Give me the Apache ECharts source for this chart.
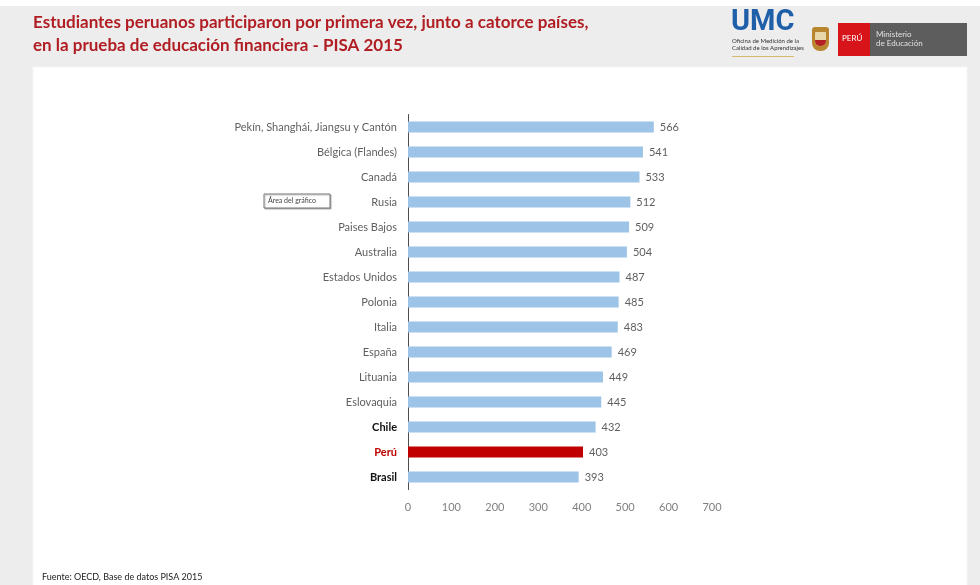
<!DOCTYPE html>
<html>
<head>
<meta charset="utf-8">
<script src="https://cdn.jsdelivr.net/npm/echarts@6/dist/echarts.min.js"></script>
<style>
  html, body { margin: 0; padding: 0; background: #ffffff; }
  #chart { width: 980px; height: 585px; }
</style>
</head>
<body>
<div id="chart"></div>
<script>
// Puntajes PISA 2015 - educación financiera
const paises = [
  'Pekín, Shanghái, Jiangsu y Cantón', 'Bélgica (Flandes)', 'Canadá', 'Rusia',
  'Paises Bajos', 'Australia', 'Estados Unidos', 'Polonia', 'Italia', 'España',
  'Lituania', 'Eslovaquia', 'Chile', 'Perú', 'Brasil'
];
const puntajes = [566, 541, 533, 512, 509, 504, 487, 485, 483, 469, 449, 445, 432, 403, 393];
const destacadosSA = ['Chile', 'Brasil'];   // en negrita
const paisPropio = 'Perú';                  // en rojo
const ticksX = [0, 100, 200, 300, 400, 500, 600, 700];

const titulo1 = 'Estudiantes peruanos participaron por primera vez, junto a catorce países,';
const titulo2 = 'en la prueba de educación financiera - PISA 2015';
const fuente = 'Fuente: OECD, Base de datos PISA 2015';

const AZUL = '#9dc3e6';
const ROJO = '#c00000';
const GRIS_TXT = '#5f5f5f';
const FONT = 'Lato, "Open Sans", sans-serif';

const chart = echarts.init(document.getElementById('chart'), null, { renderer: 'canvas' });

const datosBarras = puntajes.map((v, i) => ({
  value: v,
  itemStyle: { color: paises[i] === paisPropio ? ROJO : AZUL }
}));

chart.setOption({
  animation: false,
  backgroundColor: '#ffffff',
  textStyle: { fontFamily: FONT },
  graphic: [
    // fondo gris de la cabecera y márgenes
    { type: 'rect', z: -10, silent: true, shape: { x: 0, y: 6, width: 980, height: 579 }, style: { fill: '#ededed' } },
    { type: 'rect', z: -9, silent: true, shape: { x: 33, y: 67, width: 934, height: 530 }, style: { fill: '#ffffff', stroke: '#f6f6f6', lineWidth: 1 } },
    // título
    { type: 'text', left: 33, top: 14, silent: true,
      style: { text: titulo1, fill: '#b01e23', font: 'bold 17px ' + FONT } },
    { type: 'text', left: 33, top: 37, silent: true,
      style: { text: titulo2, fill: '#b01e23', font: 'bold 17px ' + FONT } },
    // logotipo UMC
    { type: 'text', left: 731, top: 8, silent: true,
      style: { text: 'UMC', fill: '#1f5ea8', font: 'bold 29px Roboto, sans-serif' } },
    { type: 'text', left: 732, top: 38, silent: true,
      style: { text: 'Oficina de Medición de la\nCalidad de los Aprendizajes', fill: '#333333', font: '6px ' + FONT, lineHeight: 7 } },
    { type: 'rect', silent: true, shape: { x: 732, y: 56, width: 62, height: 1 }, style: { fill: '#d8b86a' } },
    // escudo
    { type: 'rect', silent: true, shape: { x: 812, y: 27, width: 17, height: 24, r: [3, 3, 8, 8] }, style: { fill: '#b8862e' } },
    { type: 'rect', silent: true, shape: { x: 815, y: 32, width: 11, height: 14, r: [1, 1, 5, 5] }, style: { fill: '#e8d7a8' } },
    { type: 'rect', silent: true, shape: { x: 815, y: 40, width: 11, height: 6, r: [0, 0, 5, 5] }, style: { fill: '#b52025' } },
    // PERÚ / Ministerio de Educación
    { type: 'rect', silent: true, shape: { x: 838, y: 23, width: 32, height: 33 }, style: { fill: '#d7141a' } },
    { type: 'text', left: 842, top: 34, silent: true,
      style: { text: 'PERÚ', fill: '#ffffff', font: '8px ' + FONT } },
    { type: 'rect', silent: true, shape: { x: 870, y: 23, width: 97, height: 33 }, style: { fill: '#5d5d5d' } },
    { type: 'text', left: 876, top: 30, silent: true,
      style: { text: 'Ministerio\nde Educación', fill: '#e0e0e0', font: '8px ' + FONT, lineHeight: 9 } },
    // recuadro "Área del gráfico"
    { type: 'rect', silent: true, shape: { x: 264, y: 194, width: 66, height: 14 },
      style: { fill: '#ffffff', stroke: '#777777', lineWidth: 1, shadowColor: 'rgba(0,0,0,0.25)', shadowOffsetX: 1, shadowOffsetY: 1, shadowBlur: 1 } },
    { type: 'text', left: 268, top: 197, silent: true,
      style: { text: 'Área del gráfico', fill: '#444444', font: '7px ' + FONT } },
    // fuente
    { type: 'text', left: 42, top: 573, silent: true,
      style: { text: fuente, fill: '#222222', font: '9px ' + FONT } }
  ],
  grid: { left: 408, top: 114.5, width: 304, height: 375, containLabel: false },
  xAxis: {
    type: 'value',
    min: 0, max: 700, interval: 100,
    axisLine: { show: false },
    axisTick: { show: false },
    splitLine: { show: false },
    axisLabel: {
      margin: 12, color: '#808080', fontSize: 11, fontFamily: FONT,
      formatter: v => (ticksX.includes(v) ? String(v) : '')
    }
  },
  yAxis: {
    type: 'category',
    data: paises,
    inverse: true,
    axisLine: { show: true, lineStyle: { color: '#4d4d4d', width: 1 } },
    axisTick: { show: false },
    axisLabel: {
      margin: 11, fontSize: 11, color: GRIS_TXT, fontFamily: FONT,
      formatter: v => v === paisPropio ? '{rojo|' + v + '}' : (destacadosSA.includes(v) ? '{negro|' + v + '}' : v),
      rich: {
        rojo: { color: ROJO, fontWeight: 'bold', fontSize: 11, fontFamily: FONT },
        negro: { color: '#111111', fontWeight: 'bold', fontSize: 11, fontFamily: FONT }
      }
    }
  },
  series: [{
    type: 'bar',
    data: datosBarras,
    barWidth: 11,
    label: {
      show: true, position: 'right', distance: 6,
      color: GRIS_TXT, fontSize: 11, fontFamily: FONT
    }
  }]
});
</script>
</body>
</html>
